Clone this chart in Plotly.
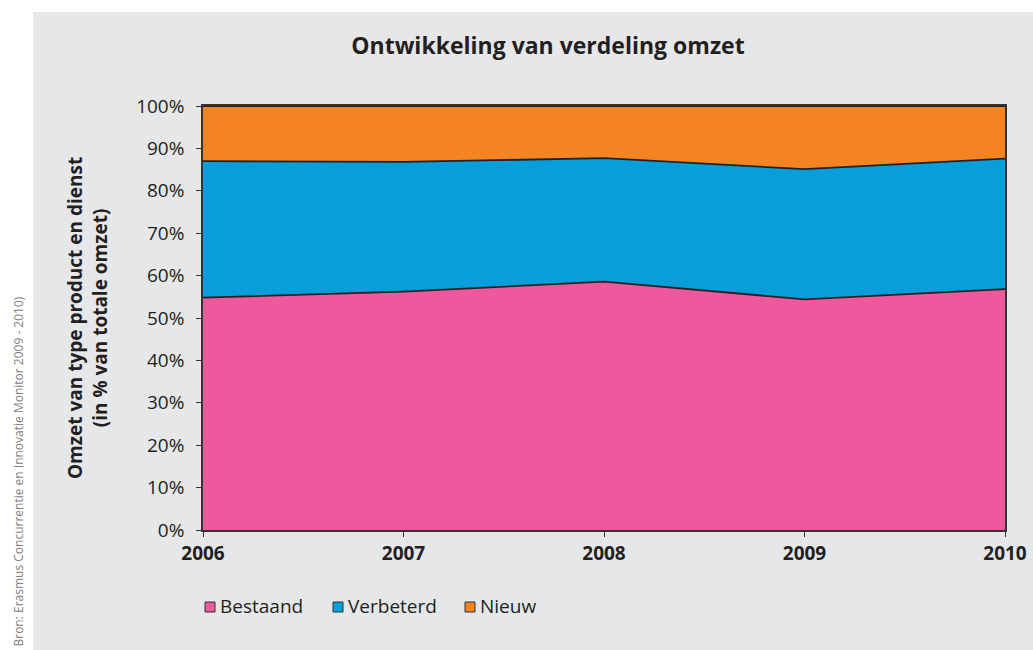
import plotly.graph_objects as go

years = [2006, 2007, 2008, 2009, 2010]
bestaand = [54.8, 56.2, 58.6, 54.4, 56.8]
verbeterd = [32.2, 30.6, 29.1, 30.7, 30.8]
nieuw = [13.0, 13.2, 12.3, 14.9, 12.4]
series_names = ["Bestaand", "Verbeterd", "Nieuw"]
series_colors = ["#EE589D", "#089ED9", "#F48421"]
y_ticks = list(range(0, 101, 10))
y_ticklabels = [f"{v}%" for v in y_ticks]

FONT = "Open Sans"
TXT = "#231F20"

# layout geometry in page pixels (body margin removed via post_script)
W, H = 1033, 650
ML, MR, MT, MB = 203, 28, 106, 120
PW, PH = W - ML - MR, H - MT - MB


def px_x(p):
    return (p - ML) / PW


def px_y(p):
    return (H - MB - p) / PH


fig = go.Figure()
for name, vals, col in zip(series_names, [bestaand, verbeterd, nieuw], series_colors):
    fig.add_trace(go.Scatter(
        x=years, y=vals, name=name, stackgroup="one", mode="lines",
        line=dict(color="#222222", width=1.8), fillcolor=col, showlegend=False,
        hoverinfo="x+y+name",
    ))

# grey panel behind the chart
fig.add_shape(type="rect", xref="paper", yref="paper", x0=px_x(33), x1=px_x(W + 20),
              y0=px_y(H + 20), y1=px_y(12),
              fillcolor="#E6E7E9", line=dict(width=0), layer="below")

# legend (manual, to match spacing)
leg_sq_x = [205, 333, 465]
leg_y = 607
for name, col, sx in zip(series_names, series_colors, leg_sq_x):
    fig.add_shape(type="rect", xref="paper", yref="paper",
                  x0=px_x(sx), x1=px_x(sx + 10), y0=px_y(leg_y + 5), y1=px_y(leg_y - 5),
                  fillcolor=col, line=dict(color="#333333", width=1), layer="above")
    fig.add_annotation(text=name, xref="paper", yref="paper", x=px_x(sx + 13), y=px_y(leg_y - 1),
                       xanchor="left", yanchor="middle", showarrow=False,
                       font=dict(family=FONT, size=19, color=TXT))

fig.add_annotation(text="Omzet van type product en dienst<br>(in % van totale omzet)",
                   xref="paper", yref="paper", x=px_x(87), y=px_y(318), textangle=-90,
                   xanchor="center", yanchor="middle",
                   showarrow=False, font=dict(family=FONT, size=19, color=TXT, weight="bold"))
fig.add_annotation(text="Bron: Erasmus Concurrentie en Innovatie Monitor 2009 - 2010)",
                   xref="paper", yref="paper", x=px_x(17.5), y=px_y(472), textangle=-90,
                   xanchor="center", yanchor="middle",
                   showarrow=False, font=dict(family=FONT, size=12, color="#808080"))

fig.update_layout(
    width=W, height=H,
    margin=dict(l=ML, r=MR, t=MT, b=MB, autoexpand=False),
    paper_bgcolor="white", plot_bgcolor="rgba(0,0,0,0)",
    font=dict(family=FONT, color=TXT),
    showlegend=False,
    title=dict(text="<b>Ontwikkeling van verdeling omzet</b>", x=548 / W, xref="container",
               xanchor="center", y=1 - 46 / H, yanchor="middle",
               font=dict(family=FONT, size=23, color=TXT)),
    xaxis=dict(range=[2006, 2010], tickvals=years, ticktext=[f"<b>{y}</b>" for y in years],
               showgrid=False, zeroline=False, showline=True, linecolor="#333333", linewidth=1.5,
               mirror=True, ticks="outside", ticklen=5, tickcolor="#333333",
               tickfont=dict(family=FONT, size=19, color=TXT)),
    yaxis=dict(range=[0, 100], tickvals=y_ticks, ticktext=y_ticklabels,
               showgrid=False, zeroline=False, showline=True, linecolor="#333333", linewidth=1.5,
               mirror=True, ticks="outside", ticklen=5, tickcolor="#333333",
               ticklabelstandoff=8,
               tickfont=dict(family=FONT, size=19, color=TXT)),
)

fig.write_html("out.html", config={"displayModeBar": False},
               post_script="document.body.style.margin='0';document.body.style.overflow='hidden';")
